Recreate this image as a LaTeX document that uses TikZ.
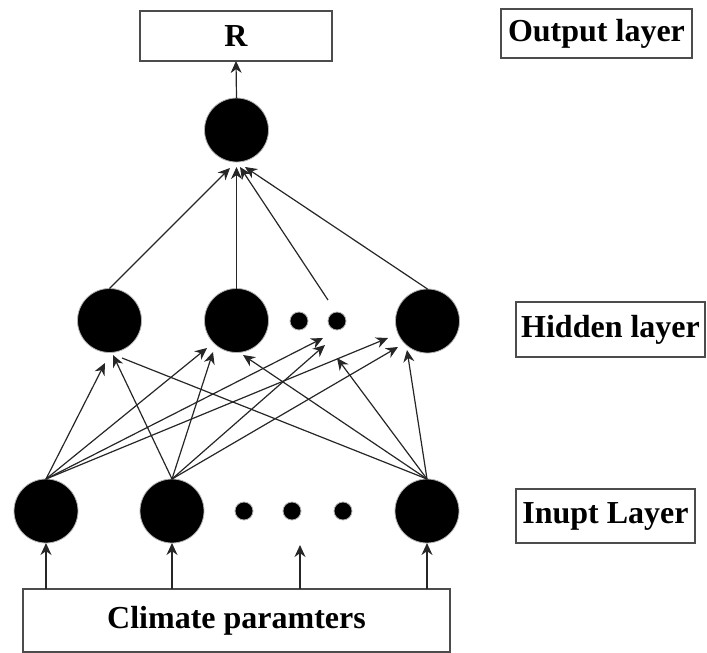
\documentclass[tikz,border=0pt]{standalone}
\usepackage{fontspec}
\setmainfont{Liberation Serif}
\usetikzlibrary{arrows.meta}
\begin{document}
\begin{tikzpicture}[x=1pt,y=-1pt,
  neuron/.style={circle,fill=black,draw=gray!60,line width=0.8pt,minimum size=64pt,inner sep=0pt,outer sep=0pt},
  dotn/.style={circle,fill=black,draw=gray!60,line width=0.8pt,minimum size=18pt,inner sep=0pt,outer sep=0pt},
  labelbox/.style={draw=black!70,line width=1.3pt,fill=white,inner sep=0pt,outer sep=0pt,font=\fontsize{32}{36}\selectfont\bfseries},
  conn/.style={draw=black!85,line width=1.2pt},
  arr/.style={conn,-{Stealth[length=12pt,width=11pt]}}]
\useasboundingbox (0,0) rectangle (707,653);
% boxes
\node[labelbox,minimum width=192pt,minimum height=50pt] (R) at (236,36) {R};
\node[labelbox,minimum width=191pt,minimum height=49pt] (ol) at (596.5,33.5) {Output layer};
\node[labelbox,minimum width=189pt,minimum height=55pt] (hl) at (610.5,329.5) {Hidden layer};
\node[labelbox,minimum width=179pt,minimum height=54pt] (il) at (605.5,516) {Inupt Layer};
\node[labelbox,minimum width=427pt,minimum height=63pt] (cb) at (236.5,620.5) {Climate paramters};
% neurons
\node[neuron] (o) at (236.5,130) {};
\node[neuron] (h1) at (109.5,320.5) {};
\node[neuron] (h2) at (236.5,320.5) {};
\node[dotn] (d1) at (299,321) {};
\node[dotn] (d2) at (337,321) {};
\node[neuron] (h4) at (427.5,321) {};
\node[neuron] (i1) at (46,511) {};
\node[neuron] (i2) at (172,511) {};
\node[dotn] (e1) at (244,511) {};
\node[dotn] (e2) at (292,511) {};
\node[dotn] (e3) at (343,511) {};
\node[neuron] (i3) at (427,511) {};
% tip coordinates
\coordinate (t11) at (105,363); \coordinate (t21) at (113,355); \coordinate (t31) at (122,358);
\coordinate (t12) at (207,348); \coordinate (t22) at (213,352); \coordinate (t32) at (243,355);
\coordinate (t13) at (323,338); \coordinate (t23) at (325,345); \coordinate (t33) at (337,358);
\coordinate (t14) at (388,338); \coordinate (t24) at (398,347); \coordinate (t34) at (407,350);
\coordinate (ot1) at (230,168); \coordinate (ot2) at (236.5,167); \coordinate (ot3) at (240,167); \coordinate (ot4) at (245,167);
\coordinate (ds) at (328,300);
\coordinate (ea) at (300,545);
% input -> hidden
\draw[arr] (i1.north) -- (t11);
\draw[arr] (i2.north) -- (t21);
\draw[conn] (i3.north) -- (t31);
\draw[arr] (i1.north) -- (t12);
\draw[arr] (i2.north) -- (t22);
\draw[arr] (i3.north) -- (t32);
\draw[arr] (i1.north) -- (t13);
\draw[arr] (i2.north) -- (t23);
\draw[arr] (i3.north) -- (t33);
\draw[arr] (i1.north) -- (t14);
\draw[arr] (i2.north) -- (t24);
\draw[arr] (i3.north) -- (t34);
% hidden -> output
\draw[arr] (h1.north) -- (ot1);
\draw[arr] (h2.north) -- (ot2);
\draw[arr] (ds) -- (ot3);
\draw[arr] (h4.north) -- (ot4);
\draw[arr] (o.north) -- (R.south);
% climate -> input
\draw[arr] (cb.north -| i1) -- (i1.south);
\draw[arr] (cb.north -| i2) -- (i2.south);
\draw[arr] (cb.north -| ea) -- (ea);
\draw[arr] (cb.north -| i3) -- (i3.south);
\end{tikzpicture}
\end{document}
